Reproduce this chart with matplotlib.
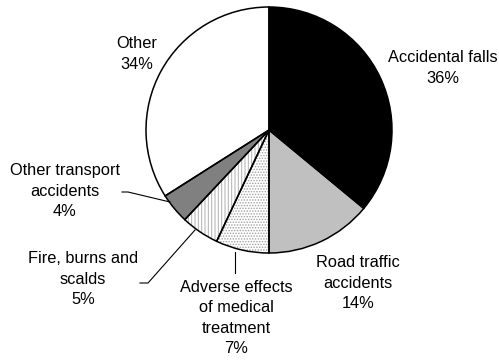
import matplotlib
matplotlib.use('Agg')
import matplotlib.pyplot as plt

plt.rcParams['font.family'] = ['Liberation Sans', 'DejaVu Sans']
plt.rcParams['hatch.linewidth'] = 0.7

# 伤害原因构成
causes = ['Accidental falls', 'Road traffic\naccidents', 'Adverse effects\nof medical\ntreatment',
          'Fire, burns and\nscalds', 'Other transport\naccidents', 'Other']
shares = [36, 14, 7, 5, 4, 34]
fills = ['black', '#c0c0c0', 'white', 'white', '#808080', 'white']
hatches = [None, None, '......', '|||||', None, None]
hatch_colors = ['black', 'black', '#a0a0a0', '#b0b0b0', 'black', 'black']

H = 361


def py(y):
    # 像素纵坐标转换为数据坐标
    return H - y


fig = plt.figure(figsize=(4.99, 3.61), dpi=100)
ax = fig.add_axes([0, 0, 1, 1])

centre = (269, py(130))
r = 123

wedges, _ = ax.pie(shares, colors=fills, startangle=90, counterclock=False,
                   center=centre, radius=r, wedgeprops=dict(linewidth=0))
for w, h, hc in zip(wedges, hatches, hatch_colors):
    if h:
        w.set_hatch(h)
        w.set_edgecolor(hc)
        w.set_linewidth(0)

# 扇形外框
ax.pie(shares, colors=['none'] * len(shares), startangle=90, counterclock=False,
       center=centre, radius=r, wedgeprops=dict(linewidth=1.1, edgecolor='black', facecolor='none'))

ax.set_xlim(0, 499)
ax.set_ylim(0, H)
ax.set_aspect('equal')
ax.axis('off')

# 标签位置
label_pos = [(443, 68), (358, 283), (236, 318), (83, 279), (65, 191), (137, 54)]
for name, s, (x, y) in zip(causes, shares, label_pos):
    ax.text(x, py(y), f'{name}\n{s}%', ha='center', va='center', multialignment='center',
            fontsize=11.8, linespacing=1.42)

# 引线
lw = 0.8
ax.plot([235, 235], [py(252), py(273)], color='black', lw=lw)
ax.plot([140, 148, 195], [py(283), py(283), py(230)], color='black', lw=lw)
ax.plot([122, 128, 170], [py(192), py(192), py(202)], color='black', lw=lw)

fig.savefig('out.png', dpi=100)
